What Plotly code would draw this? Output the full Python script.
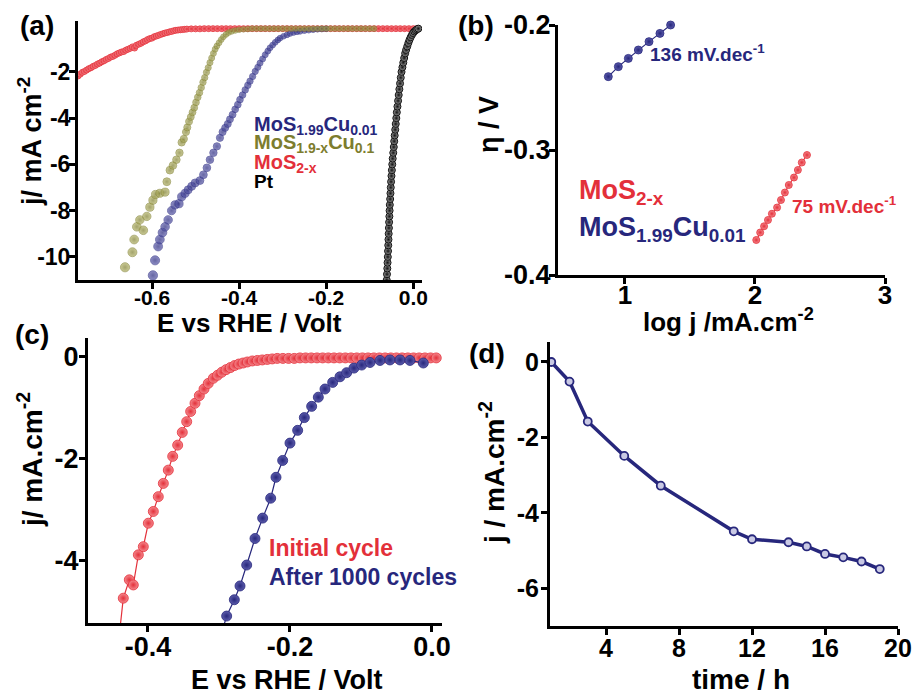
import plotly.graph_objects as go

W, H = 917, 695

# ---------------- Panel (a) data: LSV curves ----------------
a_red_E = [-0.770, -0.765, -0.760, -0.755, -0.750, -0.745, -0.740, -0.735, -0.730, -0.725,
           -0.720, -0.715, -0.710, -0.705, -0.700, -0.695, -0.690, -0.685, -0.680, -0.675,
           -0.670, -0.665, -0.660, -0.655, -0.650, -0.645, -0.640, -0.636, -0.630, -0.625,
           -0.620, -0.615, -0.610, -0.605, -0.600, -0.595, -0.590, -0.585, -0.580, -0.575,
           -0.570, -0.565, -0.560, -0.555, -0.550, -0.545, -0.540, -0.535, -0.530, -0.525,
           -0.520, -0.510, -0.500, -0.490, -0.480, -0.470, -0.460, -0.450, -0.440, -0.430,
           -0.420, -0.410, -0.400, -0.390, -0.380, -0.370, -0.360, -0.350, -0.340, -0.330,
           -0.320, -0.310, -0.300, -0.290, -0.280, -0.270, -0.260, -0.250, -0.240, -0.230,
           -0.220, -0.210, -0.200, -0.190, -0.180, -0.170, -0.160, -0.150, -0.140, -0.130,
           -0.120, -0.110, -0.100, -0.090, -0.080, -0.070, -0.060, -0.050, -0.040, -0.030,
           -0.020, -0.010, 0.000, 0.008]
a_red_j = [-2.18, -2.10, -2.02, -1.98, -1.92, -1.86, -1.82, -1.76, -1.72, -1.66,
           -1.62, -1.56, -1.52, -1.46, -1.42, -1.36, -1.33, -1.28, -1.22, -1.18,
           -1.14, -1.12, -1.06, -1.02, -0.98, -0.92, -0.97, -0.85, -0.80, -0.76,
           -0.70, -0.66, -0.60, -0.56, -0.54, -0.48, -0.45, -0.42, -0.38, -0.35,
           -0.32, -0.30, -0.27, -0.25, -0.22, -0.20, -0.19, -0.18, -0.17, -0.16,
           -0.15, -0.14, -0.14, -0.14, -0.13, -0.13, -0.13, -0.13, -0.13, -0.13,
           -0.13, -0.13, -0.13, -0.13, -0.13, -0.13, -0.13, -0.13, -0.13, -0.13,
           -0.13, -0.13, -0.13, -0.13, -0.13, -0.13, -0.13, -0.13, -0.13, -0.13,
           -0.13, -0.13, -0.13, -0.13, -0.13, -0.13, -0.13, -0.13, -0.13, -0.13,
           -0.13, -0.13, -0.13, -0.13, -0.13, -0.13, -0.13, -0.13, -0.13, -0.13,
           -0.13, -0.13, -0.13, -0.13]

a_blue_E = [-0.598, -0.593, -0.586, -0.582, -0.576, -0.570, -0.563, -0.555, -0.547, -0.538,
            -0.532, -0.524, -0.517, -0.509, -0.501, -0.490, -0.482, -0.474, -0.467, -0.459,
            -0.451, -0.444, -0.438, -0.432, -0.426, -0.421, -0.415, -0.409, -0.403, -0.398,
            -0.392, -0.386, -0.380, -0.375, -0.369, -0.363, -0.357, -0.352, -0.346, -0.340,
            -0.334, -0.329, -0.323, -0.317, -0.311, -0.306, -0.298, -0.290, -0.283, -0.275,
            -0.267, -0.260, -0.250, -0.240, -0.230, -0.220, -0.210, -0.200]
a_blue_j = [-10.80, -10.15, -9.55, -9.25, -8.95, -8.70, -8.40, -8.00, -7.75, -7.70,
            -7.40, -7.25, -7.10, -6.95, -6.80, -6.70, -6.45, -6.15, -5.80, -5.50,
            -5.22, -4.85, -4.60, -4.42, -4.25, -4.05, -3.85, -3.62, -3.42, -3.20,
            -3.00, -2.78, -2.58, -2.40, -2.20, -1.98, -1.80, -1.62, -1.44, -1.26,
            -1.10, -0.96, -0.84, -0.72, -0.62, -0.54, -0.46, -0.40, -0.34, -0.30,
            -0.27, -0.25, -0.22, -0.20, -0.18, -0.16, -0.15, -0.14]

a_green_E = [-0.662, -0.645, -0.641, -0.635, -0.628, -0.620, -0.612, -0.605, -0.598, -0.592,
             -0.582, -0.570, -0.566, -0.559, -0.552, -0.544, -0.537, -0.532, -0.527, -0.522,
             -0.519, -0.515, -0.511, -0.507, -0.503, -0.499, -0.495, -0.491, -0.487, -0.483,
             -0.479, -0.475, -0.471, -0.467, -0.463, -0.459, -0.455, -0.451, -0.446, -0.441,
             -0.436, -0.430, -0.424, -0.417, -0.409, -0.400, -0.390, -0.380, -0.370, -0.360,
             -0.350, -0.340, -0.330, -0.320, -0.310, -0.300, -0.290, -0.280, -0.270, -0.260,
             -0.250, -0.240, -0.230, -0.220, -0.210, -0.200, -0.190, -0.180, -0.170, -0.160,
             -0.150, -0.140, -0.130, -0.120, -0.110, -0.100, -0.090]
a_green_j = [-10.45, -9.80, -9.25, -8.70, -8.40, -8.85, -8.25, -7.85, -7.55, -7.30,
             -7.25, -7.20, -6.75, -6.25, -6.05, -5.80, -5.50, -5.05, -4.90, -4.60,
             -4.40, -4.15, -3.95, -3.75, -3.55, -3.32, -3.10, -2.90, -2.68, -2.45,
             -2.25, -2.02, -1.82, -1.60, -1.40, -1.20, -1.02, -0.88, -0.74, -0.60,
             -0.48, -0.38, -0.30, -0.25, -0.21, -0.18, -0.16, -0.15, -0.13, -0.13,
             -0.13, -0.13, -0.13, -0.13, -0.13, -0.13, -0.13, -0.13, -0.13, -0.13,
             -0.13, -0.13, -0.13, -0.13, -0.13, -0.13, -0.13, -0.13, -0.13, -0.13,
             -0.13, -0.13, -0.13, -0.13, -0.13, -0.13, -0.13]

a_pt_j = [-11.0, -10.75, -10.5, -10.25, -10.0, -9.75, -9.5, -9.25, -9.0, -8.75,
          -8.5, -8.25, -8.0, -7.75, -7.5, -7.25, -7.0, -6.75, -6.5, -6.25,
          -6.0, -5.75, -5.5, -5.25, -5.0, -4.75, -4.5, -4.25, -4.0, -3.75,
          -3.5, -3.25, -3.0, -2.75, -2.5, -2.25, -2.0, -1.8, -1.6, -1.4,
          -1.2, -1.05, -0.9, -0.75, -0.62, -0.5, -0.4, -0.32, -0.25, -0.2,
          -0.16, -0.13]
a_pt_E = [-0.0610, -0.0604, -0.0597, -0.0591, -0.0585, -0.0580, -0.0575, -0.0570, -0.0565, -0.0560,
          -0.0555, -0.0549, -0.0544, -0.0539, -0.0531, -0.0524, -0.0517, -0.0510, -0.0501, -0.0492,
          -0.0483, -0.0473, -0.0460, -0.0448, -0.0438, -0.0427, -0.0415, -0.0403, -0.0390, -0.0378,
          -0.0364, -0.0349, -0.0335, -0.0320, -0.0304, -0.0288, -0.0270, -0.0250, -0.0230, -0.0209,
          -0.0187, -0.0165, -0.0139, -0.0113, -0.0088, -0.0060, -0.0032, -0.0005, 0.0025, 0.0055,
          0.0085, 0.0115]

a_xticks = [-0.6, -0.4, -0.2, 0.0]
a_xticklabels = ["-0.6", "-0.4", "-0.2", "0.0"]
a_yticks = [-2, -4, -6, -8, -10]
a_yticklabels = ["-2", "-4", "-6", "-8", "-10"]

# ---------------- Panel (b) data: Tafel ----------------
b_blue_logj = [0.872, 0.949, 1.026, 1.103, 1.185, 1.269, 1.351]
b_blue_eta = [-0.2413, -0.2333, -0.2267, -0.2200, -0.2133, -0.2067, -0.2000]
b_red_logj = [2.01, 2.04, 2.07, 2.10, 2.13, 2.17, 2.20, 2.23, 2.26, 2.30, 2.33, 2.36, 2.40]
b_red_eta = [-0.372, -0.366, -0.361, -0.356, -0.351, -0.346, -0.340, -0.334, -0.328,
             -0.322, -0.316, -0.310, -0.304]
b_xticks = [1, 2, 3]
b_xticklabels = ["1", "2", "3"]
b_yticks = [-0.2, -0.3, -0.4]
b_yticklabels = ["-0.2", "-0.3", "-0.4"]

# ---------------- Panel (c) data: cycling ----------------
c_init_E = [-0.440, -0.4348, -0.4263, -0.4207, -0.4136, -0.4066, -0.3995, -0.3925, -0.3855, -0.3784,
            -0.3714, -0.3652, -0.3582, -0.3517, -0.3455, -0.3399, -0.3338, -0.3277, -0.3211, -0.3151,
            -0.3080, -0.3020, -0.2960, -0.2900, -0.2840, -0.2780, -0.2720, -0.2660, -0.2600, -0.2530,
            -0.2460, -0.2390, -0.2320, -0.2250, -0.2180, -0.210, -0.202, -0.194, -0.186, -0.178,
            -0.170, -0.162, -0.154, -0.146, -0.138, -0.130, -0.122, -0.114, -0.106, -0.098,
            -0.090, -0.082, -0.074, -0.066, -0.058, -0.050, -0.042, -0.034, -0.026, -0.018,
            -0.010, -0.002, 0.006]
c_init_j = [-5.40, -4.73, -4.37, -4.47, -3.88, -3.72, -3.26, -3.03, -2.74, -2.48,
            -2.22, -1.95, -1.73, -1.48, -1.27, -1.07, -0.91, -0.76, -0.63, -0.52,
            -0.42, -0.36, -0.30, -0.25, -0.21, -0.17, -0.14, -0.12, -0.10, -0.08,
            -0.07, -0.06, -0.05, -0.04, -0.03, -0.03, -0.03, -0.03, -0.02, -0.02,
            -0.02, -0.02, -0.02, -0.02, -0.02, -0.02, -0.02, -0.02, -0.02, -0.02,
            -0.02, -0.02, -0.02, -0.02, -0.02, -0.02, -0.02, -0.02, -0.02, -0.02,
            -0.02, -0.02, -0.02]
c_after_E = [-0.296, -0.2892, -0.2784, -0.2704, -0.2610, -0.2493, -0.2385, -0.2272, -0.2197, -0.2103,
             -0.2000, -0.1892, -0.1798, -0.1695, -0.1601, -0.1507, -0.1399, -0.1296, -0.1202, -0.1099,
             -0.0990, -0.0873, -0.0732, -0.0592, -0.0450, -0.0310, -0.0122]
c_after_j = [-5.40, -5.08, -4.76, -4.49, -4.08, -3.56, -3.16, -2.77, -2.36, -2.03,
             -1.69, -1.44, -1.19, -0.97, -0.79, -0.63, -0.50, -0.39, -0.31, -0.22,
             -0.16, -0.11, -0.07, -0.06, -0.06, -0.07, -0.12]
c_xticks = [-0.4, -0.2, 0.0]
c_xticklabels = ["-0.4", "-0.2", "0.0"]
c_yticks = [0, -2, -4]
c_yticklabels = ["0", "-2", "-4"]

# ---------------- Panel (d) data: stability ----------------
d_time = [1, 2, 3, 5, 7, 11, 12, 14, 15, 16, 17, 18, 19]
d_j = [0.0, -0.52, -1.58, -2.49, -3.28, -4.49, -4.70, -4.78, -4.89, -5.09, -5.18, -5.29, -5.49]
d_xticks = [4, 8, 12, 16, 20]
d_xticklabels = ["4", "8", "12", "16", "20"]
d_yticks = [0, -2, -4, -6]
d_yticklabels = ["0", "-2", "-4", "-6"]

# ---------------- styling ----------------
RED = "#e3303a"
RED_HI = "#f58a8f"
NAVY = "#27277c"
NAVY_HI = "#5c5cab"
OLIVE = "#7d7d2e"
OLIVE_HI = "#b3b368"
BLACK = "#111111"
FONT = "Liberation Sans"


def fx(px):
    return px / W


def fy(py):
    return 1 - py / H


def sphere(color, hi, size, lw=0.8):
    return dict(color=hi, size=size, gradient=dict(type="radial", color=color),
                line=dict(color=color, width=lw))


fig = go.Figure()

# Panel (a)
fig.add_trace(go.Scatter(x=a_red_E, y=a_red_j, mode="markers", xaxis="x", yaxis="y",
                         marker=sphere(RED, RED_HI, 6), showlegend=False))
fig.add_trace(go.Scatter(x=a_blue_E, y=a_blue_j, mode="markers", xaxis="x", yaxis="y",
                         marker=sphere(NAVY, NAVY_HI, [5.5 + 0.35 * abs(v) for v in a_blue_j]),
                         showlegend=False))
fig.add_trace(go.Scatter(x=a_green_E, y=a_green_j, mode="markers", xaxis="x", yaxis="y",
                         marker=sphere(OLIVE, OLIVE_HI, [5.5 + 0.35 * abs(v) for v in a_green_j]),
                         showlegend=False))
fig.add_trace(go.Scatter(x=a_pt_E, y=a_pt_j, mode="lines+markers", xaxis="x", yaxis="y",
                         line=dict(color=BLACK, width=4),
                         marker=sphere(BLACK, "#9a9a9a", 7, 1), showlegend=False))

# Panel (b)
fig.add_trace(go.Scatter(x=b_blue_logj, y=b_blue_eta, mode="lines+markers", xaxis="x2", yaxis="y2",
                         line=dict(color=NAVY, width=1.2), cliponaxis=False,
                         marker=sphere(NAVY, NAVY_HI, 8), showlegend=False))
fig.add_trace(go.Scatter(x=b_red_logj, y=b_red_eta, mode="lines+markers", xaxis="x2", yaxis="y2",
                         line=dict(color=RED, width=1.2), cliponaxis=False,
                         marker=sphere(RED, RED_HI, 7), showlegend=False))

# Panel (c)
fig.add_trace(go.Scatter(x=c_init_E, y=c_init_j, mode="lines+markers", xaxis="x3", yaxis="y3",
                         line=dict(color=RED, width=1.2),
                         marker=sphere(RED, RED_HI, 10), showlegend=False))
fig.add_trace(go.Scatter(x=c_after_E, y=c_after_j, mode="lines+markers", xaxis="x3", yaxis="y3",
                         line=dict(color=NAVY, width=1.2),
                         marker=sphere(NAVY, NAVY_HI, 10), showlegend=False))

# Panel (d)
fig.add_trace(go.Scatter(x=d_time, y=d_j, mode="lines+markers", xaxis="x4", yaxis="y4",
                         line=dict(color=NAVY, width=3.5), cliponaxis=False,
                         marker=dict(color="#c9c9e4", size=8, line=dict(color=NAVY, width=1.8)),
                         showlegend=False))


def axis(domain, rng, tickvals, ticktext, size, anchor, standoff):
    return dict(domain=domain, range=rng, tickmode="array", tickvals=tickvals, ticktext=ticktext,
                showline=True, linewidth=3, linecolor="black", ticks="outside",
                ticklen=6, tickwidth=3, tickcolor="black", showgrid=False, zeroline=False,
                mirror=False, anchor=anchor, automargin=False, layer="above traces",
                ticklabelstandoff=standoff,
                tickfont=dict(family=FONT, size=size, color="black", weight="bold"))


fig.update_layout(
    template="none",
    width=W, height=H, autosize=False, margin=dict(l=0, r=0, t=0, b=0, pad=0),
    paper_bgcolor="white", plot_bgcolor="white", showlegend=False,
    font=dict(family=FONT, color="black"),
    xaxis=axis([fx(78), fx(422)], [-0.77, 0.02], a_xticks, a_xticklabels, 21, "y", -9),
    yaxis=axis([fy(280), fy(21)], [-11, 0.2], a_yticks, a_yticklabels, 23, "x", -6),
    xaxis2=axis([fx(558), fx(885)], [0.485, 3.0], b_xticks, b_xticklabels, 26, "y2", -11),
    yaxis2=axis([fy(275), fy(25)], [-0.4, -0.2], b_yticks, b_yticklabels, 27, "x2", -7),
    xaxis3=axis([fx(88), fx(442)], [-0.4845, 0.0141], c_xticks, c_xticklabels, 27, "y3", -8),
    yaxis3=axis([fy(623), fy(338)], [-5.216, 0.37], c_yticks, c_yticklabels, 27, "x3", -5),
    xaxis4=axis([fx(550), fx(898)], [0.93, 20], d_xticks, d_xticklabels, 25, "y4", -8),
    yaxis4=axis([fy(626), fy(342)], [-7.0, 0.53], d_yticks, d_yticklabels, 25, "x4", -3),
)


def note(text, px, py, size, color="black", xanchor="center", yanchor="middle", angle=0):
    fig.add_annotation(text=text, x=fx(px), y=fy(py), xref="paper", yref="paper",
                       xanchor=xanchor, yanchor=yanchor, showarrow=False, textangle=angle,
                       font=dict(family=FONT, size=size, color=color, weight="bold"))


# panel labels
note("(a)", 37, 25, 28)
note("(b)", 476, 25, 28)
note("(c)", 32, 334, 28)
note("(d)", 487, 353, 28)

# axis titles
note("E vs RHE / Volt", 249, 323, 26)
note("j/ mA cm<sup>-2</sup>", 30, 142, 27, angle=-90)
note("log j /mA.cm<sup>-2</sup>", 728, 320, 26)
note("η / V", 489, 125, 27, angle=-90)
note("E vs RHE / Volt", 287, 680, 27)
note("j/ mA.cm<sup>-2</sup>", 30, 460, 28, angle=-90)
note("time / h", 741, 679, 28)
note("j / mA.cm<sup>-2</sup>", 492, 473, 28, angle=-90)

# legends / labels in panel (a)
note("MoS<sub>1.99</sub>Cu<sub>0.01</sub>", 252, 125, 20, NAVY, xanchor="left")
note("MoS<sub>1.9-x</sub>Cu<sub>0.1</sub>", 252, 143, 20, OLIVE, xanchor="left")
note("MoS<sub>2-x</sub>", 252, 163, 20, RED, xanchor="left")
note("Pt", 252, 181, 19, "black", xanchor="left")

# panel (b)
note("136 mV.dec<sup>-1</sup>", 648, 53, 19, NAVY, xanchor="left")
note("75 mV.dec<sup>-1</sup>", 790, 205, 19, RED, xanchor="left")
note("MoS<sub>2-x</sub>", 577, 192, 27, RED, xanchor="left")
note("MoS<sub>1.99</sub>Cu<sub>0.01</sub>", 577, 229, 27, NAVY, xanchor="left")

# panel (c)
note("Initial cycle", 267, 548, 23, RED, xanchor="left")
note("After 1000 cycles", 267, 577, 23, NAVY, xanchor="left")

fig.write_html("out.html", config={"displayModeBar": False},
               post_script="document.body.style.margin='0px';document.body.style.overflow='hidden';")
